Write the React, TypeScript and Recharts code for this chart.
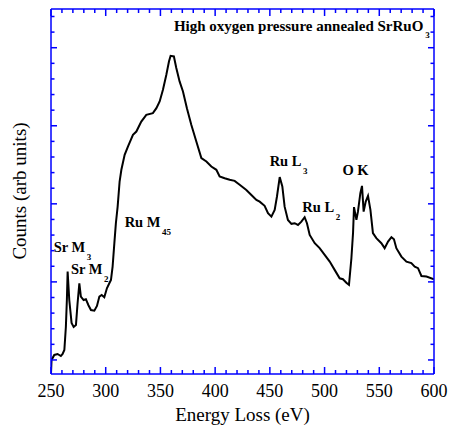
import { LineChart, Line, XAxis, YAxis, ReferenceDot } from 'recharts';

const energy = [
  250, 250.5, 253, 256, 259, 260.6, 262.2, 263.6, 264.5, 265.2,
  266.7, 268.8, 270.7, 272.8, 274.3, 275.9, 277.3, 279.8, 281.9, 284.1,
  286.5, 289.6, 292, 294.2, 296.3, 298.7, 301.1, 303.3, 304.8, 306.3,
  307.9, 309.3, 310.9, 312.7, 314.3, 317.3, 320.3, 324.9, 328, 332.5,
  337.1, 343.1, 346.3, 349.3, 352.3, 355.4, 357.8, 359.3, 362.3, 364.5,
  367.5, 370.6, 374.2, 378.2, 382.8, 387.4, 392, 396.5, 401.1, 404.1,
  408.7, 413.3, 417.8, 422.4, 428.5, 433.1, 437.7, 440.7, 445.2, 448.3,
  451.4, 454.4, 456.5, 459, 461.4, 463.5, 466.5, 469.7, 472.7, 475.7,
  478.8, 481.8, 483.9, 486.4, 491, 495.5, 500.1, 504.7, 509.2, 513.8,
  516.8, 519.9, 522.3, 524.5, 526, 526.9, 529.1, 530.5, 532.7, 534.2,
  535.7, 537.6, 539.7, 541.9, 544.2, 547.3, 551.9, 554.9, 558, 561.1,
  563.4, 565.6, 570.2, 574.8, 579.3, 582.4, 585.4, 588.5, 593.1, 600,
];

const counts = [
  -0.85, 0.0, 0.32, 0.38, 0.25, 0.38, 0.64, 2.13, 3.84, 5.66,
  3.84, 2.37, 2.11, 2.24, 3.65, 4.91, 4.06, 3.84, 3.89, 3.52,
  3.2, 3.16, 3.46, 4.06, 4.16, 4.02, 4.59, 4.91, 5.13, 5.98,
  7.48, 8.76, 9.82, 11.43, 12.18, 13.14, 13.67, 14.42, 14.63, 15.27,
  15.7, 15.81, 16.13, 16.56, 17.31, 18.27, 19.12, 19.48, 19.44, 18.7,
  17.84, 17.2, 16.13, 15.06, 13.99, 12.93, 12.71, 12.39, 12.18, 11.75,
  11.64, 11.54, 11.47, 11.22, 10.89, 10.57, 10.25, 10.14, 9.87, 9.4,
  9.18, 9.61, 10.47, 11.71, 11.11, 9.82, 8.97, 8.72, 8.76, 8.65,
  8.86, 9.14, 8.76, 8.01, 7.48, 7.16, 6.73, 6.3, 5.77, 5.23,
  5.17, 4.95, 4.81, 6.5, 8.12, 9.79, 8.97, 9.5, 10.68, 11.15,
  9.5, 10.14, 10.51, 9.61, 8.12, 7.8, 7.48, 7.16, 7.58, 7.86,
  7.73, 7.16, 6.62, 6.3, 6.2, 5.98, 5.88, 5.38, 5.34, 5.17,
];

const xTicks = [
  250, 260, 270, 280, 290, 300, 310, 320, 330, 340, 350, 360, 370, 380, 390, 400,
  410, 420, 430, 440, 450, 460, 470, 480, 490, 500, 510, 520, 530, 540, 550, 560,
  570, 580, 590, 600,
];
const yTicks = [0, 1, 2, 3, 4, 5, 6, 7, 8, 9, 10, 11, 12, 13, 14, 15, 16, 17, 18, 19, 20, 21, 22];

// peak labels: [text, subscript, energy, counts]
const peaks: Array<[string, string, number, number]> = [
  ['Sr M', '3', 252.4, 6.94],
  ['Sr M', '2', 268.2, 5.51],
  ['Ru M', '45', 317.3, 8.54],
  ['Ru L', '3', 449.8, 12.45],
  ['Ru L', '2', 479.7, 9.5],
  ['O K', '', 516.3, 11.86],
];

const title = 'High oxygen pressure annealed SrRuO';

const data = energy.map((e, i) => ({ e, c: counts[i] }));

const BLUE = '#0000ff';
const SERIF = '"Liberation Serif", "Times New Roman", serif';

function BottomTick({ x, y, payload }: any) {
  const major = payload.value % 50 === 0;
  return (
    <g>
      <line x1={x} y1={y} x2={x} y2={y - (major ? 7 : 4)} stroke={BLUE} strokeWidth={1.5} />
      {major && (
        <text x={x} y={y + 23} textAnchor="middle" fontFamily={SERIF} fontSize={18} fill="#000">
          {payload.value}
        </text>
      )}
    </g>
  );
}

function TopTick({ x, y, payload }: any) {
  const major = payload.value % 50 === 0;
  return <line x1={x} y1={y} x2={x} y2={y + (major ? 7 : 4)} stroke={BLUE} strokeWidth={1.5} />;
}

function LeftTick({ x, y, payload }: any) {
  const major = payload.value % 5 === 0;
  return <line x1={x} y1={y} x2={x + (major ? 6 : 3.5)} y2={y} stroke={BLUE} strokeWidth={1.5} />;
}

function RightTick({ x, y, payload }: any) {
  const major = payload.value % 5 === 0;
  return <line x1={x} y1={y} x2={x - (major ? 6 : 3.5)} y2={y} stroke={BLUE} strokeWidth={1.5} />;
}

function PeakLabel({ cx, cy, text, sub }: any) {
  return (
    <text x={cx} y={cy} fontFamily={SERIF} fontWeight="bold" fontSize={14.5} fill="#000">
      {text}
      {sub && (
        <tspan fontSize={9} dx={1.5} dy={8}>
          {sub}
        </tspan>
      )}
    </text>
  );
}

export default function App() {
  return (
    <div style={{ position: 'absolute', left: 0, top: 0, width: 450, height: 425, background: '#fff' }}>
      <LineChart width={450} height={425} data={data} margin={{ top: 8, right: 15, bottom: 50, left: 50 }}>
        <XAxis
          dataKey="e"
          type="number"
          domain={[250, 600]}
          ticks={xTicks}
          interval={0}
          height={1}
          tickSize={0}
          tickMargin={0}
          tickLine={false}
          axisLine={{ stroke: BLUE, strokeWidth: 1.5 }}
          tick={<BottomTick />}
          allowDataOverflow
        />
        <XAxis
          xAxisId="top"
          orientation="top"
          dataKey="e"
          type="number"
          domain={[250, 600]}
          ticks={xTicks}
          interval={0}
          height={1}
          tickSize={0}
          tickMargin={0}
          tickLine={false}
          axisLine={{ stroke: BLUE, strokeWidth: 1.5 }}
          tick={<TopTick />}
          allowDataOverflow
        />
        <YAxis
          type="number"
          domain={[-0.9, 22.48]}
          ticks={yTicks}
          interval={0}
          width={1}
          tickSize={0}
          tickMargin={0}
          tickLine={false}
          axisLine={{ stroke: BLUE, strokeWidth: 1.5 }}
          tick={<LeftTick />}
          allowDataOverflow
        />
        <YAxis
          yAxisId="right"
          orientation="right"
          type="number"
          domain={[-0.9, 22.48]}
          ticks={yTicks}
          interval={0}
          width={1}
          tickSize={0}
          tickMargin={0}
          tickLine={false}
          axisLine={{ stroke: BLUE, strokeWidth: 1.5 }}
          tick={<RightTick />}
          allowDataOverflow
        />
        <Line
          type="linear"
          dataKey="c"
          stroke="#000"
          strokeWidth={2}
          dot={false}
          activeDot={false}
          isAnimationActive={false}
        />
        {peaks.map(([text, sub, e, c]) => (
          <ReferenceDot
            key={text + sub}
            x={e}
            y={c}
            r={0}
            ifOverflow="visible"
            shape={(p: any) => <PeakLabel cx={p.cx} cy={p.cy} text={text} sub={sub} />}
          />
        ))}
        <ReferenceDot
          x={362.3}
          y={21.04}
          r={0}
          ifOverflow="visible"
          shape={(p: any) => (
            <text x={p.cx} y={p.cy} fontFamily={SERIF} fontWeight="bold" fontSize={15} fill="#000">
              {title}
              <tspan fontSize={9} dx={2} dy={7}>
                3
              </tspan>
            </text>
          )}
        />
      </LineChart>
      <div
        style={{
          position: 'absolute',
          left: 0,
          top: 405,
          width: 485,
          textAlign: 'center',
          fontFamily: SERIF,
          fontSize: 19,
          lineHeight: '20px',
        }}
      >
        Energy Loss (eV)
      </div>
      <div
        style={{
          position: 'absolute',
          left: 10,
          top: 191,
          fontFamily: SERIF,
          fontSize: 19,
          lineHeight: '20px',
          whiteSpace: 'nowrap',
          transform: 'translate(-50%, -50%) rotate(-90deg)',
          transformOrigin: 'center',
          marginLeft: 10,
        }}
      >
        Counts (arb units)
      </div>
    </div>
  );
}
